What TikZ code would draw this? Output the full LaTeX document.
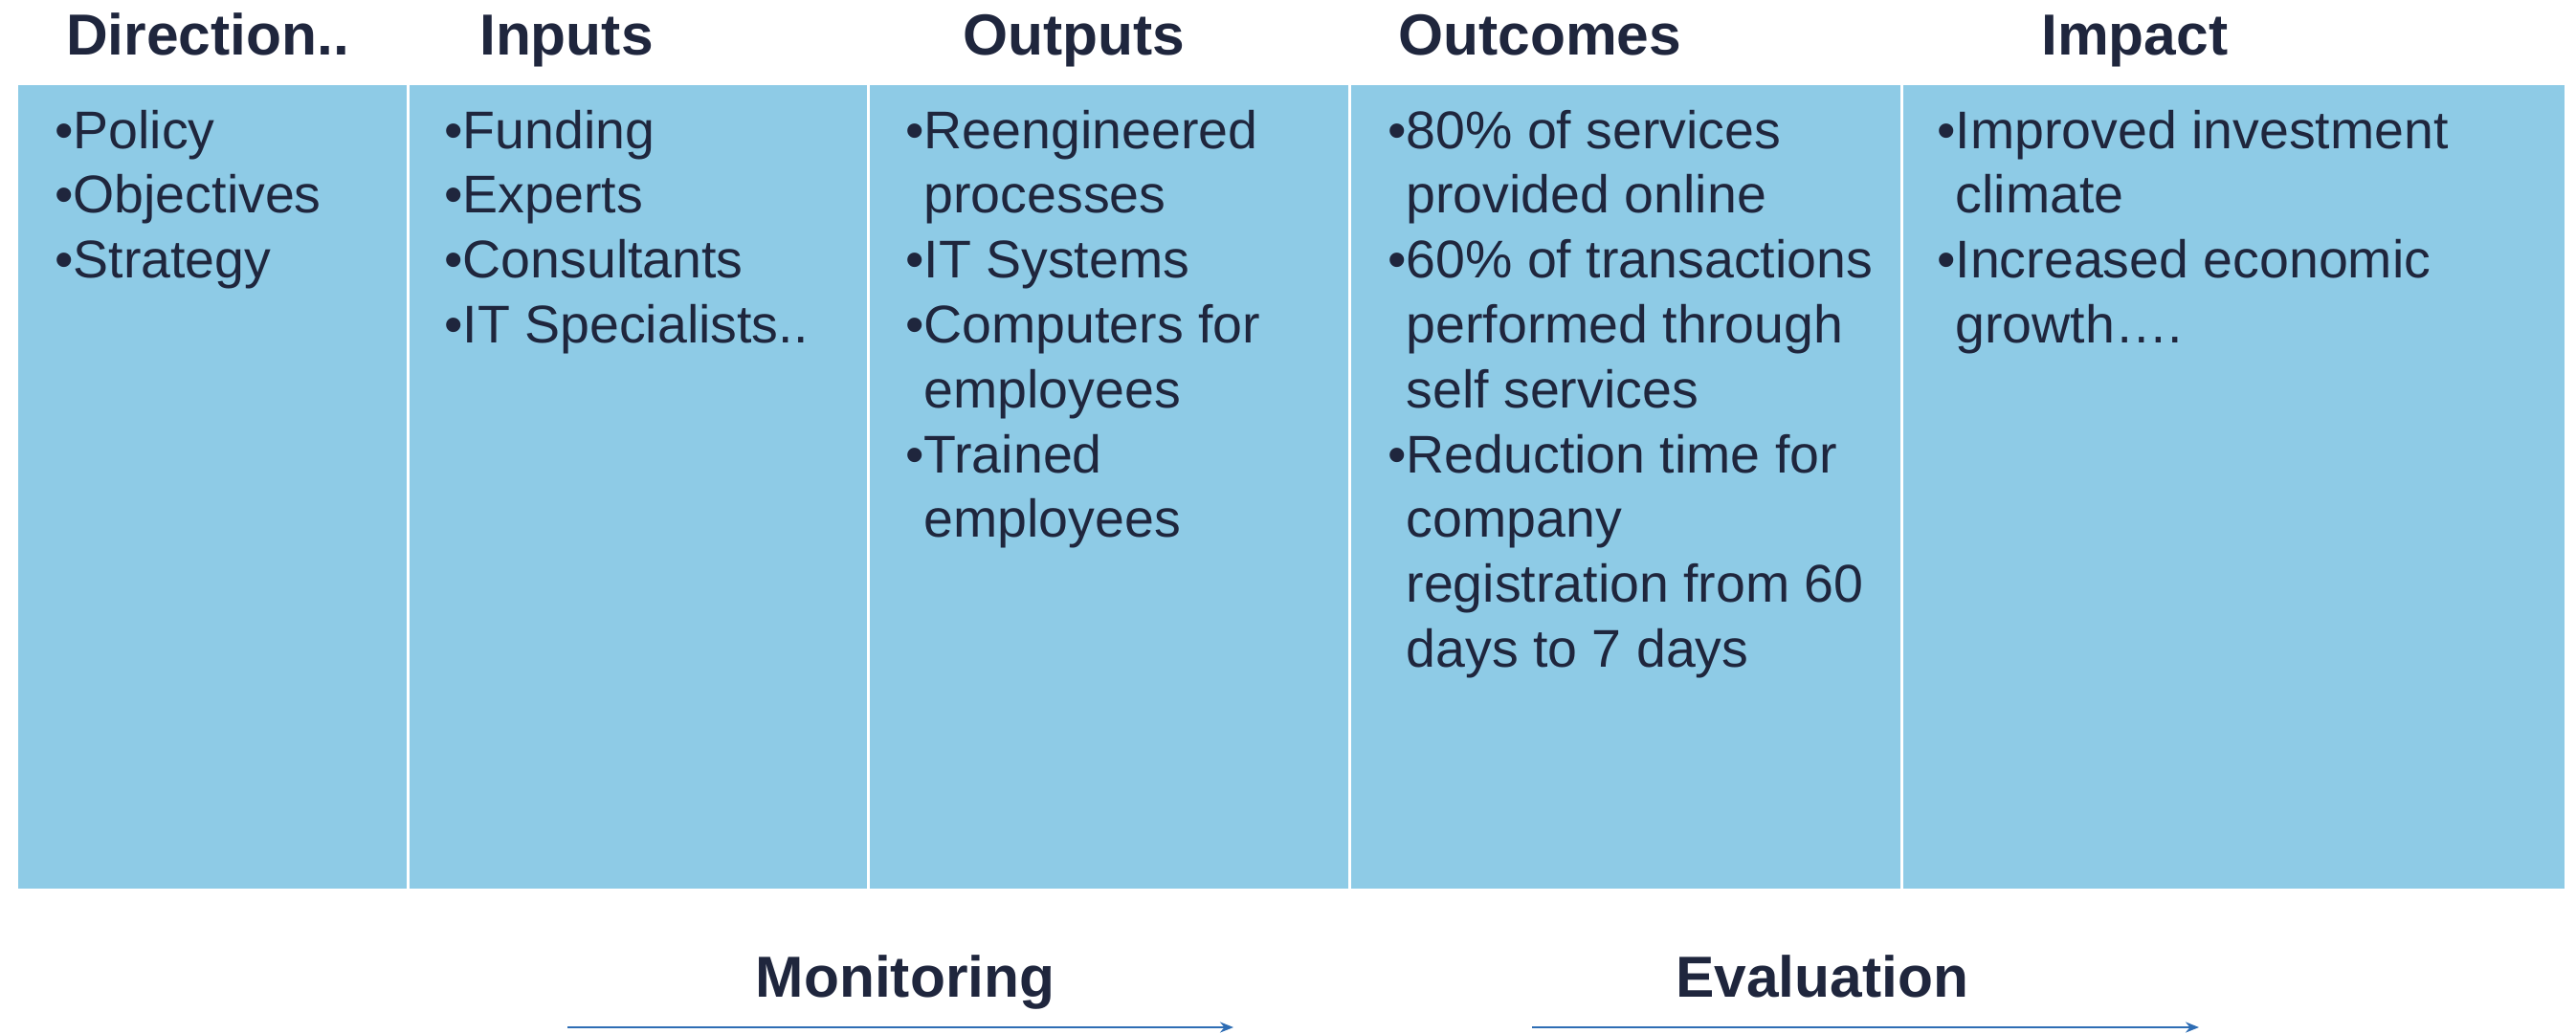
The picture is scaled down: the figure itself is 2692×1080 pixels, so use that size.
\documentclass[tikz,border=0pt]{standalone}
\usepackage{fontspec}
\setmainfont{Liberation Sans}
\usetikzlibrary{arrows.meta}
\definecolor{panelblue}{RGB}{142,203,230}
\definecolor{ink}{RGB}{31,38,61}
\definecolor{arrowblue}{RGB}{46,109,180}
% a column of bullet lines, anchored at the baseline of its first line
\newcommand\itemlist[1]{\begin{tabular}[t]{@{}l@{}}#1\end{tabular}}
% a wrapped line, indented to the text after the bullet
\newcommand\contline{\phantom{•}}
\begin{document}
\begin{tikzpicture}[x=1pt,y=-1pt,
  panel/.style={fill=panelblue, draw=none},
  head/.style={anchor=base west, inner sep=0pt, text=ink,
    font=\fontsize{60.5}{72}\selectfont\bfseries},
  items/.style={anchor=base west, inner sep=0pt, text=ink,
    font=\fontsize{55.5}{67.8}\selectfont},
  phase/.style={anchor=base, inner sep=0pt, text=ink,
    font=\fontsize{60.5}{72}\selectfont\bfseries},
  timeline/.style={draw=arrowblue, line width=2.5pt,
    -{Stealth[length=14pt,width=11pt]}}]
\useasboundingbox (0,0) rectangle (2692,1080);

% blue panels, separated by thin white gaps
\fill[panel] (19,89) rectangle (424.5,929);
\fill[panel] (427.5,89) rectangle (905.5,929);
\fill[panel] (908.5,89) rectangle (1408.5,929);
\fill[panel] (1411.5,89) rectangle (1985.5,929);
\fill[panel] (1988.5,89) rectangle (2680,929);

% column headings
\node[head] (hDir) at (69,57) {Direction..};
\node[head] (hIn)  at (501,57) {Inputs};
\node[head] (hOut) at (1006,57) {Outputs};
\node[head] (hOc)  at (1461,57) {Outcomes};
\node[head] (hImp) at (2133,57) {Impact};

% column contents
\node[items] (lDir) at (57,155) {\itemlist{•Policy\\•Objectives\\•Strategy}};
\node[items] (lIn) at (464,155) {\itemlist{•Funding\\•Experts\\•Consultants\\•IT Specialists..}};
\node[items] (lOut) at (946,155) {\itemlist{•Reengineered\\\contline processes\\•IT Systems\\•Computers for\\\contline employees\\•Trained\\\contline employees}};
\node[items] (lOc) at (1450,155) {\itemlist{•80\% of services\\\contline provided online\\•60\% of transactions\\\contline performed through\\\contline self services\\•Reduction time for\\\contline company\\\contline registration from 60\\\contline days to 7 days}};
\node[items] (lImp) at (2024,155) {\itemlist{•Improved investment\\\contline climate\\•Increased economic\\\contline growth….}};

% monitoring and evaluation spans
\node[phase] (mon) at (946,1042) {Monitoring};
\node[phase] (eva) at (1904,1042) {Evaluation};
\coordinate (monA) at (593,1074);
\coordinate (monB) at (1289,1074);
\coordinate (evaA) at (1601,1074);
\coordinate (evaB) at (2298,1074);
\draw[timeline] (monA) -- (monB);
\draw[timeline] (evaA) -- (evaB);
\end{tikzpicture}
\end{document}
